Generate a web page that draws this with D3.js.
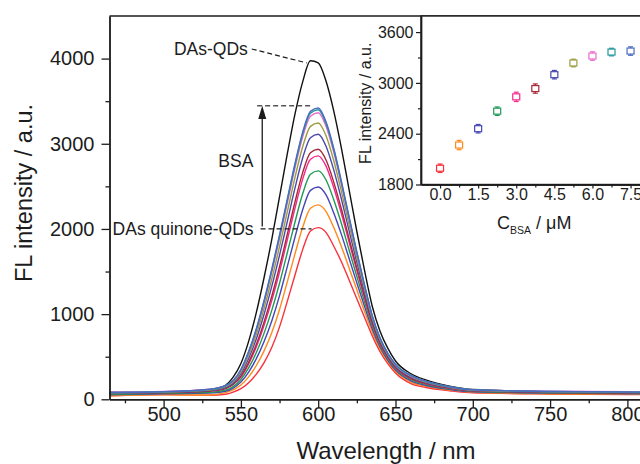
<!DOCTYPE html>
<html>
<head>
<meta charset="utf-8">
<script src="https://cdn.jsdelivr.net/npm/d3@7"></script>
<style>
  body { margin: 0; background: #fff; }
  svg { display: block; font-family: "Liberation Sans", Arial, sans-serif; }
</style>
</head>
<body>
<svg id="chart" width="640" height="464"></svg>
<script>
// ---- emission spectra (nm, a.u.) ----
const wavelength = [465,500,530,540,545,550,555,560,565,570,575,580,585,590,595,600,605,610,615,620,625,630,635,640,645,650,660,670,685,700,750,800,850];

// DAs-QDs before oxidation
const dasQds = [70,78,108,165,260,420,680,1020,1430,1880,2380,2880,3350,3730,3975,3950,3740,3390,2950,2460,1970,1510,1090,800,600,450,300,225,155,115,90,80,74];

// DAs quinone-QDs with increasing BSA (µM)
const bsa000 = [40,55,48,60,85,125,195,295,430,610,850,1150,1460,1760,1975,2015,1960,1800,1615,1400,1180,960,745,560,420,310,185,138,100,75,62,56,52];
const bsa075 = [42,52,50,79,111,168,264,397,569,785,1055,1378,1709,2022,2242,2282,2207,2019,1795,1541,1285,1032,790,590,443,329,203,152,109,82,65,59,55];
const bsa150 = [54,66,72,94,131,202,319,477,678,923,1217,1558,1905,2229,2453,2493,2402,2191,1936,1652,1367,1089,825,614,461,344,217,162,116,88,72,65,62];
const bsa225 = [59,71,81,108,149,232,368,549,777,1047,1363,1720,2082,2416,2642,2682,2578,2346,2064,1752,1441,1141,857,636,477,358,230,172,123,93,76,69,65];
const bsa300 = [80,88,112,130,180,260,414,616,868,1162,1498,1870,2246,2588,2818,2858,2740,2490,2182,1844,1510,1188,886,656,492,370,242,181,129,100,88,83,80];
const bsa375 = [66,77,94,126,173,272,434,645,908,1213,1557,1936,2318,2664,2895,2935,2812,2553,2234,1885,1540,1209,899,665,499,376,247,185,131,99,80,74,70];
const bsa450 = [71,81,103,138,190,301,480,712,999,1328,1692,2086,2482,2836,3071,3111,2974,2697,2352,1977,1609,1256,928,685,514,388,259,194,137,104,85,78,74];
const bsa525 = [75,84,109,148,203,322,514,763,1069,1415,1795,2200,2606,2968,3204,3244,3098,2806,2442,2048,1661,1293,951,700,525,398,268,201,142,107,88,81,77];
const bsa600 = [85,92,120,160,215,341,545,809,1131,1493,1887,2302,2718,3085,3324,3364,3208,2904,2522,2110,1708,1325,971,714,535,406,276,207,146,111,95,89,85];
const bsa675 = [79,88,117,159,218,347,555,822,1149,1516,1914,2332,2750,3119,3359,3399,3240,2933,2546,2129,1722,1334,977,718,538,409,279,209,147,111,91,84,80];
const bsa750 = [80,88,118,160,220,350,560,830,1160,1530,1930,2350,2770,3140,3380,3420,3260,2950,2560,2140,1730,1340,980,720,540,410,280,210,148,112,92,85,80];

// inset: peak intensity vs BSA concentration
const bsaConc = [0, 0.75, 1.5, 2.25, 3.0, 3.75, 4.5, 5.25, 6.0, 6.75, 7.5];
const peakFL  = [1992, 2266, 2459, 2666, 2835, 2933, 3097, 3235, 3317, 3364, 3376];
const peakErr = [50, 55, 50, 50, 55, 55, 50, 45, 50, 45, 50];

const seriesColors = ["#f8313a","#ff8a1e","#4646b4","#1f9a55","#f5288a","#a8283a","#4a48ae","#9c9c40","#ea6acc","#23999a","#4a6cc0"];

// tick values
const mainXTicks = [500, 550, 600, 650, 700, 750, 800];
const mainXMinor = [475, 525, 575, 625, 675, 725, 775];
const mainYTicks = [0, 1000, 2000, 3000, 4000];
const mainYMinor = [500, 1500, 2500, 3500];
const insetXTicks = [0, 1.5, 3.0, 4.5, 6.0, 7.5];
const insetXMinor = [0.75, 2.25, 3.75, 5.25, 6.75];
const insetYTicks = [1800, 2400, 3000, 3600];
const insetYMinor = [2100, 2700, 3300];

const spectra = [bsa000, bsa075, bsa150, bsa225, bsa300, bsa375, bsa450, bsa525, bsa600, bsa675, bsa750];

const svg = d3.select("#chart");
const ink = "#1c1c1c";

// ---------- main panel ----------
const x = d3.scaleLinear().domain([465, 822]).range([109.5, 661.4]);
const y = d3.scaleLinear().domain([0, 4500]).range([399.3, 16]);

const main = svg.append("g");

const line = d3.line()
  .x((d, i) => x(wavelength[i]))
  .y(d => y(d))
  .curve(d3.curveMonotoneX);

main.append("path")
  .attr("d", line(dasQds))
  .attr("fill", "none").attr("stroke", "#111").attr("stroke-width", 1.4);

spectra.forEach((s, k) => {
  main.append("path")
    .attr("d", line(s))
    .attr("fill", "none")
    .attr("stroke", seriesColors[k])
    .attr("stroke-width", 1.4);
});

// axes
const xAxis = main.append("g").attr("transform", `translate(0,${y(0)})`)
  .call(d3.axisBottom(x).tickValues(mainXTicks).tickSize(8).tickPadding(0)
    .tickFormat(d3.format("d")).tickSizeOuter(0));
main.append("g").attr("transform", `translate(0,${y(0)})`)
  .call(d3.axisBottom(x).tickValues(mainXMinor).tickSize(4).tickFormat("").tickSizeOuter(0));
const yAxis = main.append("g").attr("transform", `translate(${x(465)},0)`)
  .call(d3.axisLeft(y).tickValues(mainYTicks).tickSize(8).tickPadding(7)
    .tickFormat(d3.format("d")).tickSizeOuter(0));
main.append("g").attr("transform", `translate(${x(465)},0)`)
  .call(d3.axisLeft(y).tickValues(mainYMinor).tickSize(4).tickFormat("").tickSizeOuter(0));

main.selectAll(".domain").attr("stroke", ink).attr("stroke-width", 1.4);
main.selectAll(".tick line").attr("stroke", ink).attr("stroke-width", 1.3);
xAxis.selectAll("text").attr("font-size", 20).attr("fill", ink).attr("font-family", "Liberation Sans, Arial");
yAxis.selectAll("text").attr("font-size", 20).attr("fill", ink).attr("font-family", "Liberation Sans, Arial");

// frame
main.append("line")
  .attr("x1", x(465)).attr("x2", x(822)).attr("y1", y(4500)).attr("y2", y(4500))
  .attr("stroke", ink).attr("stroke-width", 1.4);
main.append("line")
  .attr("x1", x(822)).attr("x2", x(822)).attr("y1", y(4500)).attr("y2", y(0))
  .attr("stroke", ink).attr("stroke-width", 1.4);

main.append("text")
  .attr("x", 386).attr("y", 459)
  .attr("text-anchor", "middle").attr("font-size", 24).attr("fill", ink)
  .text("Wavelength / nm");
main.append("text")
  .attr("transform", "translate(32,193) rotate(-90)")
  .attr("text-anchor", "middle").attr("font-size", 23.5).attr("fill", ink)
  .text("FL intensity / a.u.");

// annotations
const annoFont = 17.5;
main.append("text")
  .attr("x", x(506.7)).attr("y", y(4046))
  .attr("font-size", annoFont).attr("fill", ink).text("DAs-QDs");
main.append("line")
  .attr("x1", x(557)).attr("y1", y(4113)).attr("x2", x(592.6)).attr("y2", y(3949))
  .attr("stroke", ink).attr("stroke-width", 1.2).attr("stroke-dasharray", "5,3");

main.append("line")
  .attr("x1", x(560.5)).attr("x2", x(595)).attr("y1", y(3447)).attr("y2", y(3447))
  .attr("stroke", "#555").attr("stroke-width", 1.5).attr("stroke-dasharray", "5,3");
main.append("line")
  .attr("x1", x(562.7)).attr("x2", x(595.7)).attr("y1", y(2000)).attr("y2", y(2000))
  .attr("stroke", ink).attr("stroke-width", 1.2).attr("stroke-dasharray", "5,3");

// BSA arrow
const ax = x(563.8);
main.append("line")
  .attr("x1", ax).attr("x2", ax)
  .attr("y1", y(2030)).attr("y2", y(3320))
  .attr("stroke", ink).attr("stroke-width", 1.3);
main.append("path")
  .attr("d", `M${ax},${y(3445)} L${ax - 4},${y(3290)} L${ax + 4},${y(3290)} Z`)
  .attr("fill", ink);

main.append("text")
  .attr("x", x(535.4)).attr("y", y(2726))
  .attr("font-size", annoFont).attr("fill", ink).text("BSA");
main.append("text")
  .attr("x", x(467)).attr("y", y(1930))
  .attr("font-size", annoFont).attr("fill", ink).text("DAs quinone-QDs");

// ---------- inset ----------
const xi = d3.scaleLinear().domain([-0.75, 8.25]).range([421, 649.6]);
const yi = d3.scaleLinear().domain([1800, 3790]).range([184.5, 16]);
const inset = svg.append("g");

inset.append("rect")
  .attr("x", xi(-0.75)).attr("y", yi(3790))
  .attr("width", xi(8.25) - xi(-0.75)).attr("height", yi(1800) - yi(3790))
  .attr("fill", "#fff").attr("stroke", ink).attr("stroke-width", 1.4);

const ixAxis = inset.append("g").attr("transform", `translate(0,${yi(1800)})`)
  .call(d3.axisBottom(xi).tickValues(insetXTicks).tickSize(4).tickPadding(0)
    .tickFormat(d3.format(".1f")).tickSizeOuter(0));
inset.append("g").attr("transform", `translate(0,${yi(1800)})`)
  .call(d3.axisBottom(xi).tickValues(insetXMinor).tickSize(3).tickFormat("").tickSizeOuter(0));
const iyAxis = inset.append("g").attr("transform", `translate(${xi(-0.75)},0)`)
  .call(d3.axisLeft(yi).tickValues(insetYTicks).tickSize(5).tickPadding(2.5)
    .tickFormat(d3.format("d")).tickSizeOuter(0));
inset.append("g").attr("transform", `translate(${xi(-0.75)},0)`)
  .call(d3.axisLeft(yi).tickValues(insetYMinor).tickSize(3).tickFormat("").tickSizeOuter(0));
inset.selectAll(".domain").attr("stroke", ink).attr("stroke-width", 1.4);
inset.selectAll(".tick line").attr("stroke", ink).attr("stroke-width", 1.2);
ixAxis.selectAll("text").attr("font-size", 16).attr("fill", ink).attr("font-family", "Liberation Sans, Arial");
iyAxis.selectAll("text").attr("font-size", 16).attr("fill", ink).attr("font-family", "Liberation Sans, Arial");

const pts = inset.append("g").selectAll("g")
  .data(bsaConc.map((c, i) => ({ c, v: peakFL[i], e: peakErr[i], col: seriesColors[i] })))
  .join("g");
pts.append("line")
  .attr("x1", d => xi(d.c)).attr("x2", d => xi(d.c))
  .attr("y1", d => yi(d.v - d.e)).attr("y2", d => yi(d.v + d.e))
  .attr("stroke", d => d.col).attr("stroke-width", 1.2);
pts.append("line")
  .attr("x1", d => xi(d.c) - 2.5).attr("x2", d => xi(d.c) + 2.5)
  .attr("y1", d => yi(d.v + d.e)).attr("y2", d => yi(d.v + d.e))
  .attr("stroke", d => d.col).attr("stroke-width", 1.2);
pts.append("line")
  .attr("x1", d => xi(d.c) - 2.5).attr("x2", d => xi(d.c) + 2.5)
  .attr("y1", d => yi(d.v - d.e)).attr("y2", d => yi(d.v - d.e))
  .attr("stroke", d => d.col).attr("stroke-width", 1.2);
pts.append("rect")
  .attr("x", d => xi(d.c) - 3.5).attr("y", d => yi(d.v) - 3)
  .attr("width", 7).attr("height", 6)
  .attr("fill", "#fff").attr("stroke", d => d.col).attr("stroke-width", 1.2);

const ixt = inset.append("text")
  .attr("x", (xi(-0.75) + xi(8.25)) / 2 - 1).attr("y", 229.3)
  .attr("text-anchor", "middle").attr("font-size", 18).attr("fill", ink);
ixt.append("tspan").text("C");
ixt.append("tspan").attr("font-size", 10.5).attr("dy", 5).text("BSA");
ixt.append("tspan").attr("dy", -5).text(" / μM");

inset.append("text")
  .attr("transform", `translate(371,${(yi(1800) + yi(3790)) / 2 + 3}) rotate(-90)`)
  .attr("text-anchor", "middle").attr("font-size", 16).attr("fill", ink)
  .text("FL intensity / a.u.");
</script>
</body>
</html>
